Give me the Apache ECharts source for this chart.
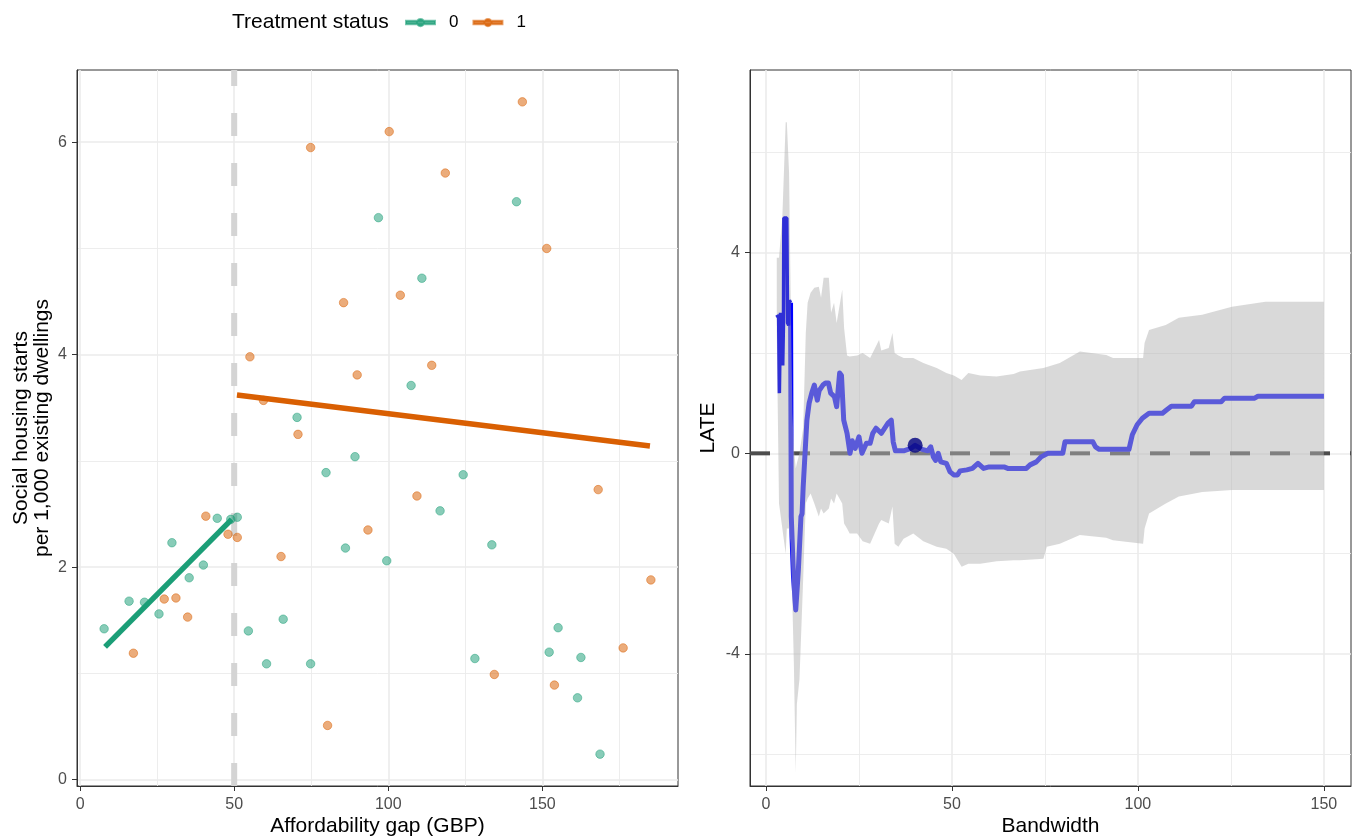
<!DOCTYPE html>
<html>
<head>
<meta charset="utf-8">
<title>Affordability gap and LATE by bandwidth</title>
<script src="https://cdn.jsdelivr.net/npm/echarts@6/dist/echarts.min.js"></script>
<style>
  html, body { margin: 0; padding: 0; background: #fff; }
  #main { width: 1358px; height: 836px; }
</style>
</head>
<body>
<div id="main"></div>
<script>
// left panel: councils, affordability gap vs social housing starts
const gapControl = [7.8, 15.9, 20.9, 25.6, 29.8, 35.4, 40.0, 44.5, 48.9, 51.0, 54.6, 96.8, 141.6, 110.9, 107.4, 70.4, 89.2, 79.8, 124.3, 116.8, 86.1, 133.6, 99.5, 65.9, 155.1, 152.2, 162.5, 60.5, 74.8, 128.1, 161.4, 168.7]
const startsControl = [1.42, 1.68, 1.67, 1.56, 2.23, 1.90, 2.02, 2.46, 2.45, 2.47, 1.40, 5.29, 5.44, 4.72, 3.71, 3.41, 3.04, 2.89, 2.87, 2.53, 2.18, 2.21, 2.06, 1.51, 1.43, 1.20, 1.15, 1.09, 1.09, 1.14, 0.77, 0.24]
const gapTreated = [17.3, 27.3, 31.1, 34.9, 40.8, 48.0, 51.0, 55.1, 74.8, 100.3, 143.5, 118.5, 151.4, 103.9, 85.5, 89.9, 114.1, 59.5, 70.7, 109.3, 168.1, 93.4, 65.2, 185.2, 176.2, 134.4, 153.9, 80.3]
const startsTreated = [1.19, 1.70, 1.71, 1.53, 2.48, 2.31, 2.28, 3.98, 5.95, 6.10, 6.38, 5.71, 5.00, 4.56, 4.49, 3.81, 3.90, 3.57, 3.25, 2.67, 2.73, 2.35, 2.10, 1.88, 1.24, 0.99, 0.89, 0.51]

// fitted lines either side of the cutoff
const fitControlX = [8.1, 49.2]
const fitControlY = [1.25, 2.45]
const fitTreatedX = [50.9, 184.9]
const fitTreatedY = [3.62, 3.14]
const cutoff = 50

// right panel: LATE estimate by bandwidth
const bwEarly = [2.9, 3.4, 3.6, 3.9, 4.3, 4.5, 4.7, 4.8, 5.6, 5.8, 6.1, 6.3, 6.6]
const lateEarly = [2.76, 2.70, 1.20, 2.80, 2.50, 1.75, 2.60, 4.69, 4.69, 2.60, 2.55, 3.05, 3.00]
const bwMain = [6.6, 6.8, 7.4, 8.0, 8.3, 8.7, 9.0, 9.4, 9.7, 10.0, 10.5, 11.0, 11.6, 12.3, 13.0, 13.8, 14.3, 15.3, 16.0, 16.8, 17.4, 18.4, 19.0, 19.8, 20.3, 20.9, 21.8, 22.6, 23.2, 24.0, 25.0, 25.8, 27.0, 28.0, 28.7, 29.6, 31.0, 32.8, 33.7, 34.2, 34.8, 37.0, 39.0, 40.1, 42.0, 43.5, 44.3, 45.0, 45.6, 46.3, 47.0, 48.5, 49.5, 50.5, 51.5, 52.2, 54.0, 55.5, 57.0, 58.5, 60.0, 64.0, 65.0, 70.0, 71.0, 72.7, 74.0, 75.8, 79.8, 80.4, 87.9, 88.6, 89.6, 97.6, 98.5, 99.8, 101.2, 103.0, 106.6, 107.6, 109.0, 114.4, 115.2, 122.4, 123.3, 131.4, 132.3, 150.0]
const lateMain = [3.00, -1.26, -2.46, -3.12, -3.12, -2.33, -2.30, -1.26, -1.20, -0.67, 0.00, 0.66, 1.00, 1.20, 1.36, 1.06, 1.25, 1.36, 1.40, 1.40, 1.20, 1.13, 0.93, 1.60, 1.55, 0.66, 0.40, 0.00, 0.25, 0.10, 0.33, 0.00, 0.20, 0.20, 0.40, 0.50, 0.40, 0.60, 0.66, 0.23, 0.05, 0.05, 0.10, 0.16, 0.08, 0.05, 0.13, -0.07, -0.14, 0.00, -0.17, -0.20, -0.37, -0.43, -0.43, -0.35, -0.33, -0.30, -0.20, -0.30, -0.27, -0.27, -0.30, -0.30, -0.23, -0.17, -0.07, 0.00, 0.00, 0.23, 0.23, 0.13, 0.08, 0.08, 0.37, 0.57, 0.70, 0.80, 0.80, 0.86, 0.94, 0.94, 1.03, 1.03, 1.10, 1.10, 1.14, 1.14]

// confidence band
const ciBw = [2.9, 3.5, 4.4, 5.3, 5.6, 6.2, 6.6, 7.1, 7.5, 8.0, 8.3, 9.0, 10.0, 10.7, 11.2, 12.0, 13.0, 14.2, 14.8, 15.5, 16.9, 17.5, 18.3, 19.0, 20.5, 21.0, 21.8, 22.5, 24.5, 26.0, 28.0, 30.4, 31.0, 33.0, 34.0, 34.6, 35.6, 37.0, 39.6, 42.3, 45.9, 48.5, 50.5, 52.6, 54.4, 57.6, 62.0, 66.6, 68.3, 74.6, 75.5, 79.0, 84.4, 91.5, 93.3, 101.4, 101.8, 103.0, 107.5, 111.0, 117.3, 125.3, 134.3, 150.0]
const ciHigh = [3.90, 3.90, 4.72, 6.60, 6.60, 5.60, 3.30, 0.80, 0.10, -0.30, -0.20, 0.00, 0.50, 2.40, 3.00, 3.20, 3.30, 3.32, 3.10, 3.50, 3.50, 2.80, 3.00, 2.60, 3.26, 2.50, 1.95, 1.93, 1.95, 2.00, 1.90, 2.26, 2.05, 2.10, 2.40, 2.00, 1.95, 1.90, 1.90, 1.80, 1.70, 1.60, 1.55, 1.46, 1.60, 1.55, 1.53, 1.58, 1.63, 1.70, 1.72, 1.80, 2.03, 1.96, 1.90, 1.90, 2.20, 2.46, 2.56, 2.70, 2.76, 2.92, 3.02, 3.02]
const ciLow = [2.40, -1.00, -1.50, -2.00, -1.50, -1.50, -1.80, -3.00, -4.20, -6.37, -5.00, -4.50, -2.50, -1.00, -0.90, -0.80, -1.00, -1.26, -1.10, -1.20, -1.10, -0.90, -1.00, -0.80, -1.00, -1.40, -1.50, -1.60, -1.60, -1.75, -1.80, -1.40, -1.33, -1.40, -1.06, -1.80, -1.86, -1.70, -1.60, -1.75, -1.86, -1.90, -2.00, -2.26, -2.20, -2.20, -2.15, -2.13, -2.13, -2.10, -1.86, -1.80, -1.63, -1.68, -1.73, -1.80, -1.50, -1.20, -1.00, -0.86, -0.77, -0.73, -0.73, -0.73]

// chosen bandwidth
const chosenBw = 40.1
const chosenLate = 0.16

// axis ranges and ticks
const gapRange = [-1.0, 194.0]
const startsRange = [-0.06, 6.68]
const bwRange = [-4.3, 157.3]
const lateRange = [-6.63, 7.64]
const gapTicks = [0, 50, 100, 150]
const gapMinor = [25, 75, 125, 175]
const startsTicks = [0, 2, 4, 6]
const startsMinor = [1, 3, 5]
const bwTicks = [0, 50, 100, 150]
const bwMinor = [25, 75, 125]
const lateTicks = [-4, 0, 4]
const lateMinor = [-6, -2, 2, 6]

const font = '"Liberation Sans", Arial, sans-serif'
const zip = (xs, ys) => xs.map((x, i) => [x, ys[i]])

function mainAxis(gridIndex, range, ticks, name, nameGap, position) {
  return {
    type: 'value', gridIndex, position, min: range[0], max: range[1],
    name, nameLocation: 'middle', nameGap, nameMoveOverlap: false,
    nameTextStyle: { fontFamily: font, fontSize: 21, color: '#000', lineHeight: 21 },
    axisLine: { show: true, onZero: false, lineStyle: { color: '#333', width: 1 } },
    axisTick: { show: true, length: 5, customValues: ticks, lineStyle: { color: '#333', width: 1 } },
    axisLabel: { customValues: ticks, color: '#4D4D4D', fontFamily: font, fontSize: 16, margin: position === 'left' ? 10 : 11 },
    splitLine: { show: true, lineStyle: { color: '#EBEBEB', width: 1.6 } }
  }
}
function minorAxis(gridIndex, range, ticks, position) {
  return {
    type: 'value', gridIndex, position, min: range[0], max: range[1],
    axisLine: { show: false, onZero: false },
    axisTick: { show: false, customValues: ticks },
    axisLabel: { show: false },
    splitLine: { show: true, lineStyle: { color: '#EBEBEB', width: 0.9 } }
  }
}

const chart = echarts.init(document.getElementById('main'))

const legendIcon = 'path://M0,2L32,2L32,6L0,6Z M12,4A4,4 0 1 1 20,4A4,4 0 1 1 12,4Z'

const option = {
  animation: false,
  backgroundColor: '#fff',
  title: {
    text: 'Treatment status', left: 232, top: 12, padding: 0,
    textStyle: { fontFamily: font, fontSize: 21, fontWeight: 'normal', color: '#000' }
  },
  legend: {
    left: 405, top: 14, padding: 0, itemWidth: 29, itemHeight: 8, itemGap: 14,
    textStyle: { fontFamily: font, fontSize: 17, color: '#000', padding: [0, 0, 0, 9] },
    data: [
      { name: '0', icon: legendIcon, itemStyle: { color: '#1B9E77' } },
      { name: '1', icon: legendIcon, itemStyle: { color: '#D95F02' } }
    ]
  },
  grid: [
    { left: 77, right: 680, top: 70, bottom: 50, outerBoundsMode: 'none', show: true, borderColor: '#333', borderWidth: 1, backgroundColor: 'transparent' },
    { left: 750, right: 7, top: 70, bottom: 50, outerBoundsMode: 'none', show: true, borderColor: '#333', borderWidth: 1, backgroundColor: 'transparent' }
  ],
  xAxis: [
    mainAxis(0, gapRange, gapTicks, 'Affordability gap (GBP)', 30, 'bottom'),
    minorAxis(0, gapRange, gapMinor, 'bottom'),
    mainAxis(1, bwRange, bwTicks, 'Bandwidth', 30, 'bottom'),
    minorAxis(1, bwRange, bwMinor, 'bottom')
  ],
  yAxis: [
    mainAxis(0, startsRange, startsTicks, 'Social housing starts\nper 1,000 existing dwellings', 24, 'left'),
    minorAxis(0, startsRange, startsMinor, 'left'),
    mainAxis(1, lateRange, lateTicks, 'LATE', 31, 'left'),
    minorAxis(1, lateRange, lateMinor, 'left')
  ],
  series: [
    {
      name: 'cutoff', type: 'line', xAxisIndex: 0, yAxisIndex: 0,
      data: [[cutoff, startsRange[0]], [cutoff, startsRange[1]]],
      showSymbol: false, silent: true, z: 2,
      lineStyle: { color: '#D4D4D4', width: 6, type: [23, 27], cap: 'butt' }
    },
    {
      name: '0', type: 'scatter', xAxisIndex: 0, yAxisIndex: 0,
      data: zip(gapControl, startsControl), symbolSize: 8.5, z: 3,
      itemStyle: { color: 'rgba(27,158,119,0.65)', borderColor: 'rgba(27,158,119,0.75)', borderWidth: 0.8 }
    },
    {
      name: '1', type: 'scatter', xAxisIndex: 0, yAxisIndex: 0,
      data: zip(gapTreated, startsTreated), symbolSize: 8.5, z: 3,
      itemStyle: { color: 'rgba(217,95,2,0.65)', borderColor: 'rgba(217,95,2,0.75)', borderWidth: 0.8 }
    },
    {
      name: 'fit0', type: 'line', xAxisIndex: 0, yAxisIndex: 0,
      data: zip(fitControlX, fitControlY), showSymbol: false, z: 4,
      lineStyle: { color: '#1B9E77', width: 5.5 }
    },
    {
      name: 'fit1', type: 'line', xAxisIndex: 0, yAxisIndex: 0,
      data: zip(fitTreatedX, fitTreatedY), showSymbol: false, z: 4,
      lineStyle: { color: '#D95F02', width: 5.5 }
    },
    {
      name: 'zero', type: 'line', xAxisIndex: 2, yAxisIndex: 2,
      data: [[bwRange[0], 0], [bwRange[1], 0]], showSymbol: false, silent: true, z: 2,
      lineStyle: { color: '#4D4D4D', width: 4, type: [20, 20], cap: 'butt' }
    },
    {
      name: 'late', type: 'line', xAxisIndex: 2, yAxisIndex: 2,
      data: zip(bwMain, lateMain), showSymbol: false, z: 3,
      lineStyle: { color: '#0000FF', width: 5, join: 'round' }
    },
    {
      name: 'ci', type: 'custom', xAxisIndex: 2, yAxisIndex: 2, clip: true, z: 6,
      data: ciBw.map((b, i) => [b, ciLow[i], ciHigh[i]]),
      encode: { x: 0, y: [1, 2] },
      renderItem: function (params, api) {
        if (params.dataIndex !== 0) return null
        const upper = ciBw.map((b, i) => api.coord([b, ciHigh[i]]))
        const lower = ciBw.map((b, i) => api.coord([b, ciLow[i]])).reverse()
        return {
          type: 'polygon',
          shape: { points: upper.concat(lower) },
          style: { fill: 'rgba(179,179,179,0.5)' }
        }
      }
    },
    {
      name: 'lateEarly', type: 'line', xAxisIndex: 2, yAxisIndex: 2,
      data: zip(bwEarly, lateEarly), showSymbol: false, z: 7,
      lineStyle: { color: '#2F2FD6', width: 3.5 }
    },
    {
      name: 'chosen', type: 'scatter', xAxisIndex: 2, yAxisIndex: 2,
      data: [[chosenBw, chosenLate]], symbolSize: 15, z: 8,
      itemStyle: { color: '#000080' }
    }
  ]
}

chart.setOption(option)
</script>
</body>
</html>
